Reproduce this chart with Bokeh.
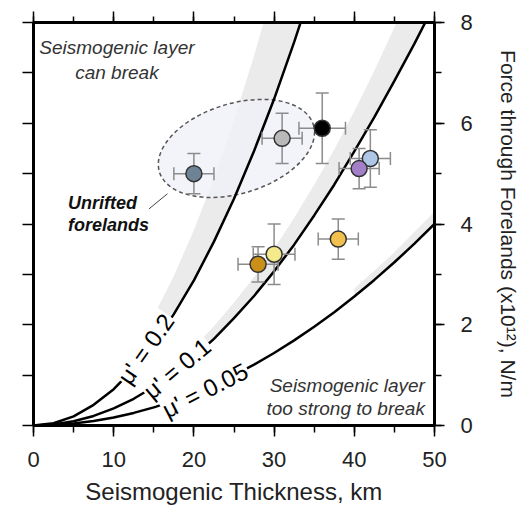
import math
from bokeh.plotting import figure
from bokeh.models import Range1d, LinearAxis, SingleIntervalTicker, CustomJSTickFormatter, ColumnDataSource
from bokeh.core.properties import value
from bokeh.embed import file_html
from bokeh.resources import INLINE

# ---------------- data ----------------
thickness_grid = [0, 2.5, 5, 7.5, 10, 12.5, 15, 17.5, 20, 22.5, 25, 27.5, 30, 32.5, 35,
                  37.5, 40, 42.5, 45, 47.5, 50]
force_mu020 = [0, 0.045, 0.18, 0.41, 0.72, 1.13, 1.62, 2.21, 2.88, 3.65, 4.50, 5.45, 6.48, 7.61, 8.82,
               10.1, 11.5, 13.0, 14.6, 16.2, 18.0]
force_mu010 = [0, 0.02, 0.085, 0.19, 0.34, 0.53, 0.77, 1.04, 1.36, 1.72, 2.13, 2.57, 3.06, 3.59, 4.17,
               4.78, 5.44, 6.12, 6.84, 7.58, 8.36]
force_mu005 = [0, 0.01, 0.04, 0.09, 0.16, 0.25, 0.36, 0.49, 0.64, 0.81, 1.00, 1.21, 1.44, 1.69, 1.96,
               2.25, 2.56, 2.89, 3.24, 3.61, 4.00]

# light grey uncertainty bands (outer edge) over part of the grid
band020_x = [12.5, 15, 17.5, 20, 22.5, 25, 27.5, 30, 32.5, 35]
band020_lo = [1.13, 1.62, 2.21, 2.88, 3.65, 4.50, 5.45, 6.48, 7.61, 8.82]
band020_hi = [1.52, 2.18, 2.97, 3.88, 4.91, 6.06, 7.34, 8.73, 10.2, 11.9]
band010_x = [20, 22.5, 25, 27.5, 30, 32.5, 35, 37.5, 40, 42.5, 45, 47.5, 50]
band010_lo = [1.36, 1.72, 2.13, 2.57, 3.06, 3.59, 4.17, 4.78, 5.44, 6.12, 6.84, 7.58, 8.36]
band010_hi = [1.56, 1.97, 2.44, 2.95, 3.51, 4.12, 4.78, 5.48, 6.24, 7.04, 7.90, 8.80, 9.75]
band005_x = [40, 42.5, 45, 47.5, 50]
band005_lo = [2.56, 2.89, 3.24, 3.61, 4.00]
band005_hi = [2.72, 3.07, 3.44, 3.84, 4.25]

curve_labels = ["μ' = 0.2", "μ' = 0.1", "μ' = 0.05"]

# forelands
site_thickness = [20, 31, 36, 42, 40.6, 38, 30, 28]
site_force = [5.0, 5.7, 5.9, 5.3, 5.1, 3.7, 3.4, 3.2]
site_xerr = [2.5, 2.5, 2.9, 2.5, 2.5, 2.5, 2.6, 2.5]
site_yerr = [0.4, 0.5, 0.7, 0.57, 0.4, 0.4, 0.6, 0.35]
site_colors = ["#6f8396", "#b9b9b9", "#000000", "#afc7e6", "#a37fc7", "#f1c04d", "#f5ea8b", "#c98f18"]

unrifted_center = (25.3, 5.5)

x_label = "Seismogenic Thickness, km"
y_label = "Force through Forelands (x10¹²), N/m"

FONT = "Liberation Sans"

# ---------------- figure ----------------
W, H = 522, 507
p = figure(width=W, height=H, x_range=Range1d(0, 50), y_range=Range1d(0, 8),
           output_backend="svg", toolbar_location=None, y_axis_location="right",
           min_border_left=33, min_border_top=22, min_border_right=88, min_border_bottom=82)
p.grid.visible = False
p.outline_line_color = "black"
p.outline_line_width = 3
p.background_fill_color = "white"
p.border_fill_color = "white"

def style_axis(ax, major_out, minor_out):
    ax.axis_line_color = "black"
    ax.axis_line_width = 3
    ax.major_tick_line_color = "black"
    ax.major_tick_line_width = 1.5
    ax.minor_tick_line_color = "black"
    ax.minor_tick_line_width = 1.5
    ax.major_tick_in = 0
    ax.minor_tick_in = 0
    ax.major_tick_out = major_out
    ax.minor_tick_out = minor_out
    ax.major_label_text_font = FONT
    ax.major_label_text_font_size = "22px"
    ax.major_label_text_color = "#222222"
    ax.axis_label_text_font = FONT
    ax.axis_label_text_font_size = "24px"
    ax.axis_label_text_font_style = "normal"
    ax.axis_label_text_color = "#222222"

xb = p.xaxis[0]
xb.ticker = SingleIntervalTicker(interval=10, num_minor_ticks=2)
style_axis(xb, 11, 7)
xb.major_label_standoff = 15
xb.axis_label = x_label
xb.axis_label_standoff = 8

yr = p.yaxis[0]
yr.ticker = SingleIntervalTicker(interval=2, num_minor_ticks=2)
style_axis(yr, 10, 7)
yr.major_label_standoff = 16
yr.axis_label = y_label
yr.axis_label_text_font_size = "21px"
yr.axis_label_standoff = 21

blank = CustomJSTickFormatter(code="return ''")
xt = LinearAxis(ticker=SingleIntervalTicker(interval=10, num_minor_ticks=2), formatter=blank)
style_axis(xt, 11, 6)
xt.major_label_standoff = 0
p.add_layout(xt, "above")

yl = LinearAxis(ticker=SingleIntervalTicker(interval=1, num_minor_ticks=0), formatter=blank)
style_axis(yl, 11, 0)
yl.major_label_standoff = 0
p.add_layout(yl, "left")

# bands
band_col = "#ebebeb"
p.varea(x=band020_x, y1=band020_lo, y2=band020_hi, fill_color=band_col)
p.varea(x=band010_x, y1=band010_lo, y2=band010_hi, fill_color=band_col)
p.varea(x=band005_x, y1=band005_lo, y2=band005_hi, fill_color=band_col)

# unrifted ellipse
p.ellipse(x=[unrifted_center[0]], y=[unrifted_center[1]], width=161, height=90,
          angle=math.radians(17), width_units="screen", height_units="screen",
          fill_color="#f0f0f9", fill_alpha=0.8, line_color="#555555",
          line_dash="4 3", line_width=1.5)

# curves
for ys in (force_mu020, force_mu010, force_mu005):
    p.line(thickness_grid, ys, line_color="black", line_width=2.5)

# curve labels (white background breaks the curve)
p.text(x=[14.0, 17.9, 21.4], y=[1.52, 1.13, 0.70], text=curve_labels,
       angle=[math.radians(55), math.radians(40), math.radians(27)],
       text_font=value(FONT), text_font_size="24px", text_color="black",
       text_align="center", text_baseline="middle",
       background_fill_color="white", padding=1)

# error bars
src = ColumnDataSource(dict(
    x=site_thickness, y=site_force,
    x0=[a - b for a, b in zip(site_thickness, site_xerr)],
    x1=[a + b for a, b in zip(site_thickness, site_xerr)],
    y0=[a - b for a, b in zip(site_force, site_yerr)],
    y1=[a + b for a, b in zip(site_force, site_yerr)],
    c=site_colors))
ecol = "#8c8c8c"
p.segment(x0="x", y0="y0", x1="x", y1="y1", source=src, line_color=ecol, line_width=1.5)
p.segment(x0="x0", y0="y", x1="x1", y1="y", source=src, line_color=ecol, line_width=1.5)
p.scatter(x="x", y="y0", source=src, marker="dash", size=13, line_color=ecol, line_width=1.5)
p.scatter(x="x", y="y1", source=src, marker="dash", size=13, line_color=ecol, line_width=1.5)
p.scatter(x="x0", y="y", source=src, marker="dash", size=13, angle=math.pi / 2, line_color=ecol, line_width=1.5)
p.scatter(x="x1", y="y", source=src, marker="dash", size=13, angle=math.pi / 2, line_color=ecol, line_width=1.5)

# points
p.scatter(x="x", y="y", source=src, size=16, fill_color="c", line_color="#333333", line_width=1.5)

# leader line + labels
p.line([16.7, 14.4], [4.6, 4.3], line_color="#444444", line_width=1)
p.text(x=[4.3, 4.3], y=[4.42, 3.99], text=["Unrifted", "forelands"],
       text_font=value(FONT), text_font_size="18px", text_font_style="bold italic",
       text_color="#111111", text_align="left", text_baseline="middle")
p.text(x=[10.4, 10.4], y=[7.5, 7.0], text=["Seismogenic layer", "can break"],
       text_font=value(FONT), text_font_size="19px", text_font_style="italic",
       text_color="#333333", text_align="center", text_baseline="middle")
p.text(x=[48.8, 48.8], y=[0.79, 0.34], text=["Seismogenic layer", "too strong to break"],
       text_font=value(FONT), text_font_size="19px", text_font_style="italic",
       text_color="#333333", text_align="right", text_baseline="middle")

open("out.html", "w").write(file_html(p, INLINE))
